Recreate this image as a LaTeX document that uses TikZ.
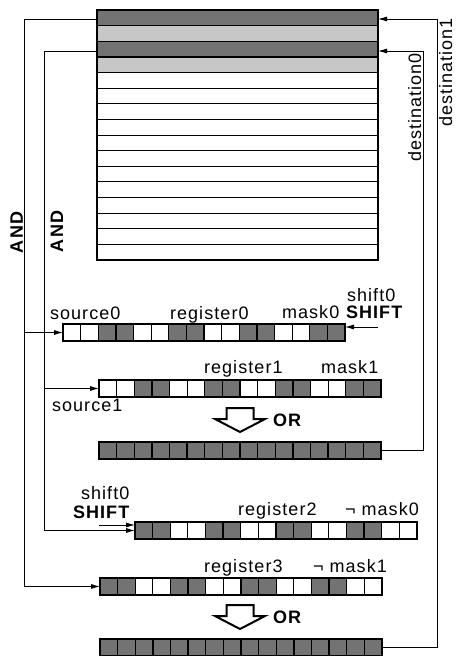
\documentclass[tikz,border=0pt]{standalone}
\usepackage{fontspec}
\setmainfont{Liberation Sans}[LetterSpace=6]
\usetikzlibrary{calc,arrows.meta}

% cell size of a 16-bit register
\newcommand\cw{17.625}
\newcommand\ch{17}

\tikzset{
  reg/.style={minimum width=282pt, minimum height=17pt, inner sep=0pt, outer sep=0pt},
  memblock/.style={minimum width=281pt, minimum height=250pt, inner sep=0pt, outer sep=0pt},
  darkfill/.style={fill=black!55},
  lightfill/.style={fill=black!22},
  darkcell/.style={darkfill, draw=black, line width=1.4pt},
  whitecell/.style={draw=black, line width=0.9pt},
  regframe/.style={draw=black, line width=2pt},
  conn/.style={draw=black, line width=0.8pt},
  arr/.style={conn, -{Latex[length=9pt,width=5pt]}},
  lab/.style={font=\fontsize{18}{20}\selectfont, inner sep=0pt, outer sep=0pt, anchor=base west},
  blab/.style={lab, font=\fontsize{18}{20}\selectfont\bfseries},
  orline/.style={draw=black, line width=2pt, line join=miter, fill=white},
  orarrow/.pic={\path[orline] (-13.5,0) -- (13.5,0) -- (13.5,11) -- (25,11)
      -- (0,24) -- (-25,11) -- (-13.5,11) -- cycle;}
}

% #1 register node, #2 list of 16 bits (1 = set cell)
\newcommand\regcells[2]{%
  \foreach \dk [count=\i from 0] in {#2}{%
    \ifnum\dk=1\relax
      \path[darkcell] ($(#1.north west)+(\i*\cw,0)$) rectangle ++(\cw,\ch);
    \else
      \path[whitecell] ($(#1.north west)+(\i*\cw,0)$) rectangle ++(\cw,\ch);
    \fi}%
  \path[regframe] (#1.north west) rectangle (#1.south east);}

\begin{document}
\begin{tikzpicture}[x=1pt, y=-1pt]
\useasboundingbox (0,0) rectangle (456,656);

% ---- memory (bit map) ----
\node[memblock] (mem) at (237.5,135) {};
\path[darkfill]  ($(mem.north west)+(0,0)$)        rectangle ++(281,15.625);
\path[lightfill] ($(mem.north west)+(0,15.625)$)   rectangle ++(281,15.625);
\path[darkfill]  ($(mem.north west)+(0,31.25)$)    rectangle ++(281,15.625);
\path[lightfill] ($(mem.north west)+(0,46.875)$)   rectangle ++(281,15.625);
\foreach \k in {1,...,4}
  \draw[line width=1.4pt] ($(mem.north west)+(0,\k*15.625)$) -- ++(281,0);
\foreach \k in {5,...,15}
  \draw[line width=0.8pt] ($(mem.north west)+(0,\k*15.625)$) -- ++(281,0);
\draw[line width=2pt] (mem.north west) rectangle (mem.south east);

% ---- registers ----
\node[reg] (r0)   at (204,332.5) {};
\node[reg] (r1)   at (240,388.5) {};
\node[reg] (res1) at (240,450.5) {};
\node[reg] (r2)   at (276,530.5) {};
\node[reg] (r3)   at (241,586.5) {};
\node[reg] (res2) at (241,647.5) {};

\regcells{r0}{0,0,1,1,0,0,1,1,0,0,1,1,0,0,1,1}
\regcells{r1}{0,0,1,1,0,0,1,1,0,0,1,1,0,0,1,1}
\regcells{res1}{1,1,1,1,1,1,1,1,1,1,1,1,1,1,1,1}
\regcells{r2}{1,1,0,0,1,1,0,0,1,1,0,0,1,1,0,0}
\regcells{r3}{1,1,0,0,1,1,0,0,1,1,0,0,1,1,0,0}
\regcells{res2}{1,1,1,1,1,1,1,1,1,1,1,1,1,1,1,1}

% ---- OR arrows ----
\pic at (240,408) {orarrow};
\pic at (240,605) {orarrow};

% ---- connectors ----
\coordinate (a1) at (24,19);
\coordinate (a0) at (44,51);
\coordinate (d1) at (437,19);
\coordinate (d0) at (423,51);
\coordinate (s0) at (378,327);
\coordinate (s2) at (99,525);

\draw[arr] (mem.west |- a1) -- (a1) |- (r3.west);
\draw[arr] (a1 |- r0.west) -- (r0.west);
\draw[arr] (mem.west |- a0) -- (a0) |- (r2.west);
\draw[arr] (a0 |- r1.west) -- (r1.west);
\draw[arr] (res1.east) -| (d0) -- (mem.east |- d0);
\draw[arr] (res2.east) -| (d1) -- (mem.east |- d1);
\draw[arr] (s0) -- (r0.east |- s0);
\draw[arr] (s2) -- (r2.west |- s2);

% ---- labels ----
\node[lab] (l-src0) at (50,319) {source0};
\node[lab] (l-reg0) at (170,319) {register0};
\node[lab] (l-msk0) at (282,318) {mask0};
\node[lab] (l-sh0)  at (347,301) {shift0};
\node[blab] (l-SH0) at (346,318) {SHIFT};

\node[lab] (l-reg1) at (204,373) {register1};
\node[lab] (l-msk1) at (321,373) {mask1};
\node[lab] (l-src1) at (52,411) {source1};
\node[blab] (l-or1) at (273,426) {OR};

\node[lab] (l-sh2)  at (81,499) {shift0};
\node[blab] (l-SH2) at (73,518) {SHIFT};
\node[lab] (l-reg2) at (238,515) {register2};
\node[lab] (l-nm0)  at (345,515) {¬ mask0};

\node[lab] (l-reg3) at (204,572) {register3};
\node[lab] (l-nm1)  at (313,572) {¬ mask1};
\node[blab] (l-or2) at (273,623) {OR};

\node[lab, rotate=90, anchor=base east] (l-dst0) at (421,53) {destination0};
\node[lab, rotate=90, anchor=base east] (l-dst1) at (452,18) {destination1};
\node[blab, rotate=90] (l-and1) at (23,253) {AND};
\node[blab, rotate=90] (l-and0) at (63,252) {AND};
\end{tikzpicture}
\end{document}
